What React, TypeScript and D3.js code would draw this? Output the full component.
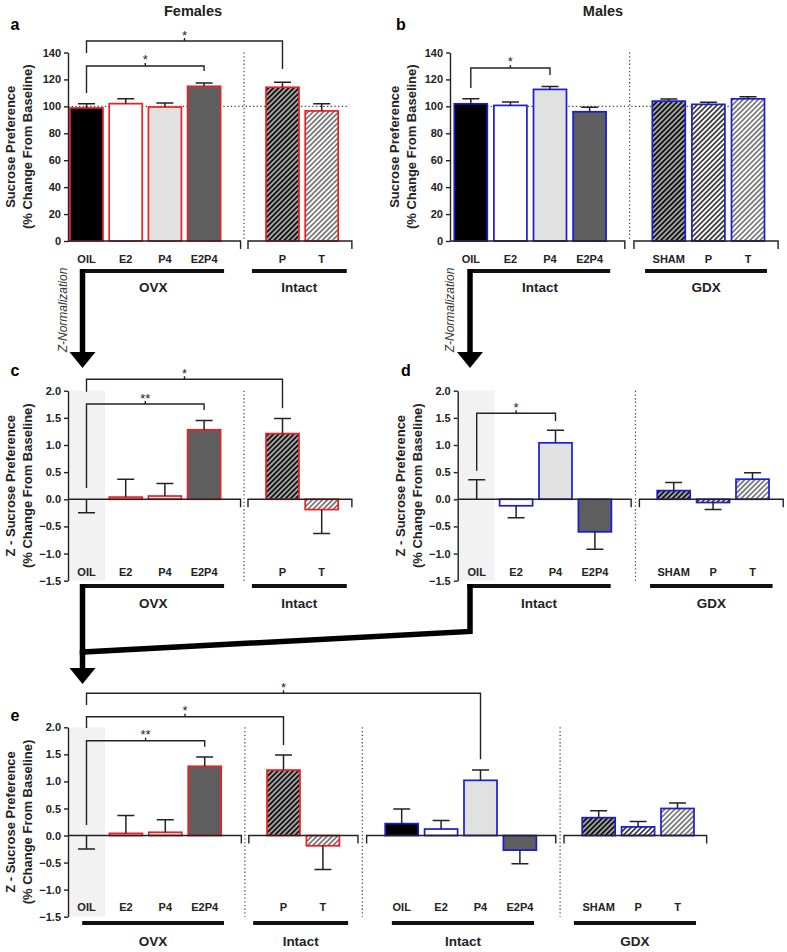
import { useEffect, useRef } from 'react';
import * as d3 from 'd3';

// ---- data ----
const femaleCats = ['OIL', 'E2', 'P4', 'E2P4', 'P', 'T'];
const maleCats = ['OIL', 'E2', 'P4', 'E2P4', 'SHAM', 'P', 'T'];

// raw sucrose preference (% change from baseline) and error-bar tips
const femaleRaw = [98.8, 102.0, 99.5, 114.9, 114.2, 96.6];
const femaleRawTip = [102.0, 105.7, 102.5, 117.4, 117.9, 102.0];
const maleRaw = [101.9, 100.7, 112.6, 96.0, 103.9, 101.5, 105.6];
const maleRawTip = [105.6, 103.2, 114.8, 99.3, 105.4, 103.0, 107.1];

// z-normalised values
const femaleZ = [0, 0.04, 0.06, 1.28, 1.21, -0.19];
const femaleZTip = [-0.25, 0.37, 0.29, 1.45, 1.49, -0.63];
const maleZ = [0, -0.12, 1.04, -0.6, 0.16, -0.06, 0.37];
const maleZTip = [0.36, -0.34, 1.27, -0.92, 0.31, -0.19, 0.49];
const maleZAll = [0.22, 0.12, 1.02, -0.27, 0.33, 0.16, 0.5];
const maleZAllTip = [0.49, 0.28, 1.21, -0.52, 0.46, 0.26, 0.6];

const rawTicks = [0, 20, 40, 60, 80, 100, 120, 140];
const zTicks = [2.0, 1.5, 1.0, 0.5, 0.0, -0.5, -1.0, -1.5];

const femaleFills = ['#000', '#fff', '#e1e1e1', '#5e5e5e', 'url(#hatchDark)', 'url(#hatchLight)'];
const maleFills = ['#000', '#fff', '#e1e1e1', '#5e5e5e', 'url(#hatchDark)', 'url(#hatchMid)', 'url(#hatchLight)'];

const femaleSlots = [0, 1, 2, 3, 5, 6];
const maleSlots = [0, 1, 2, 3, 5, 6, 7];
const maleSlotsE = [8, 9, 10, 11, 13, 14, 15];

const RED = '#ee1f26';
const BLUE = '#1c1cd0';
const FONT = '"Liberation Sans", Arial, Helvetica, sans-serif';
const INK = '#222';

type Bracket = { i0: number; i1: number; at: number; leg0: number; leg1: number; label: string };
type Panel = {
  letter: string; letterX: number; letterY: number;
  axisX: number; xRange: [number, number];
  domain: [number, number]; yRange: [number, number]; base: number;
  ticks: number[]; fmt: (d: number) => string;
  series: { slots: number[]; cats: string[]; values: number[]; tips: number[]; fills: string[]; edge: string }[];
  segments: [number | null, number][];
  dividers: number[];
  groups: { label: string; i0: number; i1: number }[];
  catY: number; groupLineY: number; groupLabelY: number;
  brackets: Bracket[];
  refLine?: number; refEnd?: number;
  shade?: number;
  yLabels: string[]; yLabelX: number[];
};

const rawFmt = (d: number) => d3.format('d')(d);
const zFmt = (d: number) => d3.format('.1f')(d);

const panels: Panel[] = [
  {
    letter: 'a', letterX: 15, letterY: 30, axisX: 68, xRange: [86.5, 125.7],
    domain: [0, 140], yRange: [241, 52.5], base: 0, ticks: rawTicks, fmt: rawFmt,
    series: [{ slots: femaleSlots, cats: femaleCats, values: femaleRaw, tips: femaleRawTip, fills: femaleFills, edge: RED }],
    segments: [[null, 3.93], [4.12, 6.77]], dividers: [4.02],
    groups: [{ label: 'OVX', i0: -0.11, i1: 3.51 }, { label: 'Intact', i0: 4.22, i1: 6.64 }],
    catY: 263, groupLineY: 271, groupLabelY: 292,
    brackets: [
      { i0: 0, i1: 3, at: 130.0, leg0: 109.9, leg1: 126.3, label: '*' },
      { i0: 0, i1: 5, at: 148.5, leg0: 139.6, leg1: 127.7, label: '*' },
    ],
    refLine: 100, refEnd: 6.64,
    yLabels: ['Sucrose Preference', '(% Change From Baseline)'], yLabelX: [10, 27],
  },
  {
    letter: 'b', letterX: 401, letterY: 30, axisX: 450, xRange: [470.8, 510.4],
    domain: [0, 140], yRange: [241, 52.5], base: 0, ticks: rawTicks, fmt: rawFmt,
    series: [{ slots: maleSlots, cats: maleCats, values: maleRaw, tips: maleRawTip, fills: maleFills, edge: BLUE }],
    segments: [[null, 3.89], [4.12, 7.76]], dividers: [4.01],
    groups: [{ label: 'Intact', i0: -0.02, i1: 3.52 }, { label: 'GDX', i0: 4.4, i1: 7.48 }],
    catY: 263, groupLineY: 271, groupLabelY: 292,
    brackets: [{ i0: 0, i1: 2, at: 128.5, leg0: 113.6, leg1: 123.3, label: '*' }],
    refLine: 100, refEnd: 7.43,
    yLabels: ['Sucrose Preference', '(% Change From Baseline)'], yLabelX: [394, 411],
  },
  {
    letter: 'c', letterX: 15, letterY: 376, axisX: 68, xRange: [86.5, 125.7],
    domain: [-1.5, 2], yRange: [580.7, 390.7], base: 0, ticks: zTicks, fmt: zFmt,
    series: [{ slots: femaleSlots, cats: femaleCats, values: femaleZ, tips: femaleZTip, fills: femaleFills, edge: RED }],
    segments: [[null, 3.93], [4.12, 6.77]], dividers: [4.02],
    groups: [{ label: 'OVX', i0: -0.11, i1: 3.51 }, { label: 'Intact', i0: 4.22, i1: 6.64 }],
    catY: 576, groupLineY: 586, groupLabelY: 608,
    brackets: [
      { i0: 0, i1: 3, at: 1.755, leg0: 0.208, leg1: 1.645, label: '**' },
      { i0: 0, i1: 5, at: 2.21, leg0: 1.98, leg1: 1.676, label: '*' },
    ],
    shade: 0.47,
    yLabels: ['Z - Sucrose Preference', '(% Change From Baseline)'], yLabelX: [10, 27],
  },
  {
    letter: 'd', letterX: 406, letterY: 376, axisX: 457.7, xRange: [476.7, 516.1],
    domain: [-1.5, 2], yRange: [580.7, 390.7], base: 0, ticks: zTicks, fmt: zFmt,
    series: [{ slots: maleSlots, cats: maleCats, values: maleZ, tips: maleZTip, fills: maleFills, edge: BLUE }],
    segments: [[null, 3.92], [4.13, 7.78]], dividers: [4.03],
    groups: [{ label: 'Intact', i0: -0.24, i1: 3.4 }, { label: 'GDX', i0: 4.4, i1: 7.51 }],
    catY: 576, groupLineY: 586, groupLabelY: 608,
    brackets: [{ i0: 0, i1: 2, at: 1.584, leg0: 0.527, leg1: 1.442, label: '*' }],
    shade: 0.46,
    yLabels: ['Z - Sucrose Preference', '(% Change From Baseline)'], yLabelX: [400, 417],
  },
  {
    letter: 'e', letterX: 15, letterY: 721, axisX: 68, xRange: [86.5, 125.9],
    domain: [-1.5, 2], yRange: [916.7, 727.3], base: 0, ticks: zTicks, fmt: zFmt,
    series: [
      { slots: femaleSlots, cats: femaleCats, values: femaleZ, tips: femaleZTip, fills: femaleFills, edge: RED },
      { slots: maleSlotsE, cats: maleCats, values: maleZAll, tips: maleZAllTip, fills: maleFills, edge: BLUE },
    ],
    segments: [[null, 3.93], [4.12, 6.89], [7.11, 11.91], [12.12, 15.74]], dividers: [4.02, 7.0, 12.02],
    groups: [
      { label: 'OVX', i0: -0.11, i1: 3.49 }, { label: 'Intact', i0: 4.23, i1: 6.64 },
      { label: 'Intact', i0: 7.75, i1: 11.36 }, { label: 'GDX', i0: 12.37, i1: 15.47 },
    ],
    catY: 911, groupLineY: 923, groupLabelY: 946,
    brackets: [
      { i0: 0, i1: 3, at: 1.752, leg0: 0.194, leg1: 1.641, label: '**' },
      { i0: 0, i1: 5, at: 2.196, leg0: 1.987, leg1: 1.673, label: '*' },
      { i0: 0, i1: 10, at: 2.628, leg0: 2.412, leg1: 1.408, label: '*' },
    ],
    shade: 0.47,
    yLabels: ['Z - Sucrose Preference', '(% Change From Baseline)'], yLabelX: [10, 27],
  },
];

function drawPanel(svg: d3.Selection<SVGSVGElement, unknown, null, undefined>, p: Panel) {
  const g = svg.append('g');
  const y = d3.scaleLinear().domain(p.domain).range(p.yRange);
  const x = d3.scaleLinear().domain([0, 1]).range(p.xRange);
  const zeroY = y(p.base);
  const top = y(p.domain[1]);
  const bottom = y(p.domain[0]);
  const bw = 33;

  if (p.shade !== undefined) {
    g.append('rect')
      .attr('x', p.axisX).attr('y', top)
      .attr('width', x(p.shade) - p.axisX).attr('height', bottom - top)
      .attr('fill', '#f2f2f2');
  }

  p.dividers.forEach((d) => {
    g.append('line')
      .attr('x1', x(d)).attr('x2', x(d)).attr('y1', top).attr('y2', bottom)
      .attr('stroke', '#444').attr('stroke-width', 1.2).attr('stroke-dasharray', '1.3,2.4');
  });

  if (p.refLine !== undefined) {
    g.append('line')
      .attr('x1', p.axisX).attr('x2', x(p.refEnd!)).attr('y1', y(p.refLine)).attr('y2', y(p.refLine))
      .attr('stroke', '#444').attr('stroke-width', 1.2).attr('stroke-dasharray', '1.3,2.4');
  }

  p.series.forEach((s) => {
    const rows = s.values.map((v, i) => ({ v, tip: s.tips[i], slot: s.slots[i], fill: s.fills[i], cat: s.cats[i] }));
    g.append('g').selectAll('rect')
      .data(rows.filter((r) => Math.abs(r.v) > 1e-6))
      .join('rect')
      .attr('x', (r) => x(r.slot) - bw / 2)
      .attr('y', (r) => Math.min(y(r.v), zeroY))
      .attr('width', bw)
      .attr('height', (r) => Math.abs(y(r.v) - zeroY))
      .attr('fill', (r) => r.fill)
      .attr('stroke', s.edge)
      .attr('stroke-width', 1.7);

    const eb = g.append('g').attr('stroke', INK).attr('stroke-width', 1.5).attr('fill', 'none');
    eb.selectAll('path')
      .data(rows)
      .join('path')
      .attr('d', (r) => {
        const cx = x(r.slot);
        return `M${cx},${y(r.v)}V${y(r.tip)}M${cx - 8.5},${y(r.tip)}H${cx + 8.5}`;
      });

    g.append('g').selectAll('text')
      .data(rows)
      .join('text')
      .attr('x', (r) => x(r.slot))
      .attr('y', p.catY)
      .attr('text-anchor', 'middle')
      .attr('font-family', FONT).attr('font-weight', 'bold').attr('font-size', 11).attr('fill', INK)
      .text((r) => r.cat);
  });

  // y axis
  const yAxis = d3.axisLeft(y).tickValues(p.ticks).tickFormat((d) => p.fmt(d as number)).tickSize(4).tickSizeOuter(0).tickPadding(3);
  const ya = g.append('g').attr('transform', `translate(${p.axisX},0)`).call(yAxis);
  ya.select('.domain').attr('stroke', INK).attr('stroke-width', 1.4);
  ya.selectAll('.tick line').attr('stroke', INK).attr('stroke-width', 1.4);
  ya.selectAll('.tick text').attr('font-family', FONT).attr('font-weight', 'bold').attr('font-size', 11).attr('fill', INK);

  // segmented x axis
  const xa = g.append('g').attr('stroke', INK).attr('stroke-width', 1.4).attr('fill', 'none');
  p.segments.forEach(([s, e]) => {
    const x0 = s === null ? p.axisX : x(s);
    const x1 = x(e);
    const d = s === null
      ? `M${x0},${zeroY}H${x1}V${zeroY + 8}`
      : `M${x0},${zeroY + 8}V${zeroY}H${x1}V${zeroY + 8}`;
    xa.append('path').attr('d', d);
  });

  // group underlines and labels
  p.groups.forEach((gr) => {
    g.append('line')
      .attr('x1', x(gr.i0)).attr('x2', x(gr.i1)).attr('y1', p.groupLineY).attr('y2', p.groupLineY)
      .attr('stroke', '#111').attr('stroke-width', 4);
    g.append('text')
      .attr('x', (x(gr.i0) + x(gr.i1)) / 2).attr('y', p.groupLabelY)
      .attr('text-anchor', 'middle')
      .attr('font-family', FONT).attr('font-weight', 'bold').attr('font-size', 13.5).attr('fill', INK)
      .text(gr.label);
  });

  // significance brackets
  p.brackets.forEach((b) => {
    const xa0 = x(b.i0);
    const xa1 = x(b.i1);
    const by = y(b.at);
    const mid = (xa0 + xa1) / 2;
    g.append('path')
      .attr('d', `M${xa0},${y(b.leg0)}V${by}H${xa1}V${y(b.leg1)}M${mid},${by}V${by - 3}`)
      .attr('fill', 'none').attr('stroke', INK).attr('stroke-width', 1.4);
    g.append('text')
      .attr('x', mid).attr('y', by - 1.5)
      .attr('text-anchor', 'middle')
      .attr('font-family', FONT).attr('font-size', 13).attr('fill', INK)
      .text(b.label);
  });

  // y labels
  const cy = (top + bottom) / 2;
  p.yLabels.forEach((t, i) => {
    g.append('text')
      .attr('transform', `translate(${p.yLabelX[i]},${cy}) rotate(-90)`)
      .attr('text-anchor', 'middle').attr('dominant-baseline', 'central')
      .attr('font-family', FONT).attr('font-weight', 'bold').attr('font-size', 13).attr('fill', INK)
      .text(t);
  });

  g.append('text')
    .attr('x', p.letterX).attr('y', p.letterY)
    .attr('text-anchor', 'middle')
    .attr('font-family', FONT).attr('font-weight', 'bold').attr('font-size', 16).attr('fill', '#000')
    .text(p.letter);
}

export default function App() {
  const svgRef = useRef<SVGSVGElement>(null);

  useEffect(() => {
    const svg = d3.select(svgRef.current!);
    svg.selectAll('*').remove();

    const defs = svg.append('defs');
    const hatch = (id: string, bg: string, fg: string, w: number) => {
      const pat = defs.append('pattern')
        .attr('id', id).attr('patternUnits', 'userSpaceOnUse')
        .attr('width', 3.6).attr('height', 3.6)
        .attr('patternTransform', 'rotate(45)');
      pat.append('rect').attr('width', 3.6).attr('height', 3.6).attr('fill', bg);
      pat.append('line').attr('x1', 1.8).attr('x2', 1.8).attr('y1', 0).attr('y2', 3.6)
        .attr('stroke', fg).attr('stroke-width', w);
    };
    hatch('hatchDark', '#141414', '#fff', 1.1);
    hatch('hatchMid', '#fff', '#1a1a1a', 1.5);
    hatch('hatchLight', '#fff', '#4a4a4a', 1.3);

    svg.append('text').attr('x', 193).attr('y', 16).attr('text-anchor', 'middle')
      .attr('font-family', FONT).attr('font-weight', 'bold').attr('font-size', 14.5).attr('fill', INK)
      .text('Females');
    svg.append('text').attr('x', 603).attr('y', 16).attr('text-anchor', 'middle')
      .attr('font-family', FONT).attr('font-weight', 'bold').attr('font-size', 14.5).attr('fill', INK)
      .text('Males');

    panels.forEach((p) => drawPanel(svg, p));

    // z-normalisation flow arrows
    const flow = svg.append('g');
    const arrow = (x: number, y0: number, y1: number) => {
      flow.append('path').attr('d', `M${x},${y0}V${y1}`)
        .attr('stroke', '#000').attr('stroke-width', 5.5).attr('fill', 'none');
      flow.append('path').attr('d', `M${x - 13},${y1}L${x + 13},${y1}L${x},${y1 + 16}Z`).attr('fill', '#000');
    };
    arrow(82.5, 269, 352);
    arrow(470, 269, 352);
    flow.append('path').attr('d', 'M470,584V631.5L82.5,652V584')
      .attr('stroke', '#000').attr('stroke-width', 5.5).attr('fill', 'none').attr('stroke-linejoin', 'miter');
    arrow(82.5, 650, 668);

    [63, 450].forEach((tx) => {
      svg.append('text')
        .attr('transform', `translate(${tx},310) rotate(-90)`)
        .attr('text-anchor', 'middle').attr('dominant-baseline', 'central')
        .attr('font-family', FONT).attr('font-style', 'italic').attr('font-size', 12).attr('fill', '#333')
        .text('Z-Normalization');
    });
  }, []);

  return (
    <div style={{ position: 'absolute', left: 0, top: 0 }}>
      <svg ref={svgRef} width={787} height={952} style={{ display: 'block', background: '#fff' }} />
    </div>
  );
}
